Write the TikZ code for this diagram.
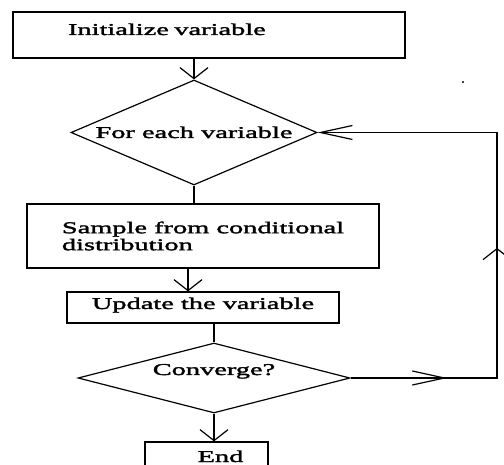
\documentclass[tikz,border=0pt]{standalone}
\usepackage{fontspec}
\setmainfont{Liberation Serif}[FakeStretch=1.72,FakeBold=2]
\usetikzlibrary{shapes.geometric,arrows.meta,decorations.markings}

\begin{document}
\begin{tikzpicture}[x=1pt,y=-1pt,
  line width=1.2pt,
  box/.style={rectangle, draw, inner sep=0pt, font=\fontsize{16.5}{17}\selectfont},
  decision/.style={diamond, draw, inner sep=0pt, font=\fontsize{16.5}{17}\selectfont},
  vtip/.style={-{Straight Barb[length=11pt,width=28pt]}},
  backedge/.style={-{Straight Barb[length=32pt,width=14pt]},
    decoration={markings,
      mark=at position 0.169 with {\arrow{Straight Barb[length=32pt,width=14pt]}},
      mark=at position 0.484 with {\arrow{Straight Barb[length=11pt,width=28pt]}}},
    postaction={decorate}},
]
  \useasboundingbox (0,0) rectangle (504,465);
  \node[box, minimum width=392pt, minimum height=46pt, text width=282pt, align=left, inner xsep=55pt, text height=11pt, text depth=11pt] (init) at (209,35) {Initialize variable};
  \node[decision, minimum width=246pt, minimum height=105pt, aspect=2.34, text height=11pt, text depth=0pt] (fe) at (194,132.5) {For each variable};
  \node[box, minimum width=352pt, minimum height=64pt, align=left] (sample) at (203,236) {Sample from conditional\\distribution};
  \node[box, minimum width=272pt, minimum height=31pt, text height=11pt, text depth=8pt] (update) at (203,307.5) {Update the variable};
  \node[decision, minimum width=272pt, minimum height=70pt, aspect=3.9, text height=10pt, text depth=16pt] (conv) at (214,378) {Converge?};
  \node[box, minimum width=123pt, minimum height=33pt, text height=11pt, text depth=4pt] (endbox) at (206.5,458.5) {\hspace*{28pt}End};
  \coordinate (turn) at (497,378);
  \fill (463,82) circle (1.2pt);
  \draw[vtip] (fe.north |- init.south) -- (fe.north);
  \draw (fe.south) -- (fe.south |- sample.north);
  \draw[vtip] ([xshift=-15pt]sample.south) -- ([xshift=-15pt]update.north);
  \draw (conv.north |- update.south) -- (conv.north);
  \draw[vtip] (conv.south) -- (conv.south |- endbox.north);
  \draw[backedge] (conv.east) -- (turn) -- (turn |- fe.east) -- (fe.east);
\end{tikzpicture}
\end{document}
